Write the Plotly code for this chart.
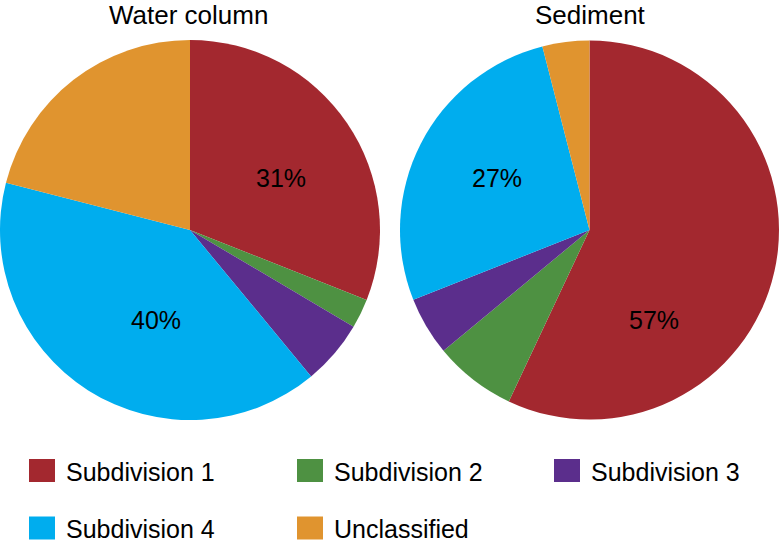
import plotly.graph_objects as go

categories = ["Subdivision 1", "Subdivision 2", "Subdivision 3", "Subdivision 4", "Unclassified"]
water_values = [31, 2.5, 5.5, 40, 21]
sediment_values = [57, 7, 5, 27, 4]
titles = ["Water column", "Sediment"]
colors = ["#A3282F", "#4E9142", "#5B2E8C", "#00ADEE", "#E0942F"]

FONT = "Liberation Sans, Arial, sans-serif"
W, H = 779, 545

fig = go.Figure()
domains = [
    dict(x=[0 / W, 380 / W], y=[1 - 420 / H, 1 - 40 / H]),
    dict(x=[400 / W, 1.0], y=[1 - 420 / H, 1 - 40 / H]),
]
for vals, dom in zip([water_values, sediment_values], domains):
    fig.add_trace(go.Pie(
        labels=categories, values=vals,
        textinfo="none",
        marker=dict(colors=colors, line=dict(width=0)),
        sort=False, direction="clockwise", rotation=0,
        domain=dom, showlegend=False, hoverinfo="label+percent",
    ))

annotations = []
# titles
for t, xc in zip(titles, [188, 590]):
    annotations.append(dict(text=t, x=xc / W, y=1 - 15 / H, xref="paper", yref="paper",
                            showarrow=False, font=dict(size=26, family=FONT, color="black"),
                            xanchor="center", yanchor="middle"))

# percentage labels for the large slices (pixel positions of label centres)
label_spots = [
    (water_values, 0, 281, 178),
    (water_values, 3, 156, 320),
    (sediment_values, 3, 497, 178),
    (sediment_values, 0, 654, 320),
]
for vals, idx, px, py in label_spots:
    annotations.append(dict(text=f"{vals[idx]:g}%", x=px / W, y=1 - py / H,
                            xref="paper", yref="paper", showarrow=False,
                            font=dict(size=25, family=FONT, color="black"),
                            xanchor="center", yanchor="middle"))

# legend
shapes = []
col_x = [29, 297, 554]
row_y = [470.5, 528]
for i, (cat, col) in enumerate(zip(categories, colors)):
    r, c = divmod(i, 3)
    x0 = col_x[c]
    yc = row_y[r]
    shapes.append(dict(type="rect", xref="paper", yref="paper",
                       x0=x0 / W, x1=(x0 + 26) / W,
                       y0=1 - (yc + 11.5) / H, y1=1 - (yc - 11.5) / H,
                       fillcolor=col, line=dict(width=0)))
    annotations.append(dict(text=cat, x=(x0 + 35) / W, y=1 - (yc + 1) / H, xref="paper", yref="paper",
                            showarrow=False, font=dict(size=25, family=FONT, color="black"),
                            xanchor="left", yanchor="middle"))

fig.update_layout(
    width=W, height=H, margin=dict(l=0, r=0, t=0, b=0),
    paper_bgcolor="white", plot_bgcolor="white",
    annotations=annotations, shapes=shapes,
)
fig.write_html("out.html", config={"displayModeBar": False},
               post_script="document.body.style.margin='0px';")
